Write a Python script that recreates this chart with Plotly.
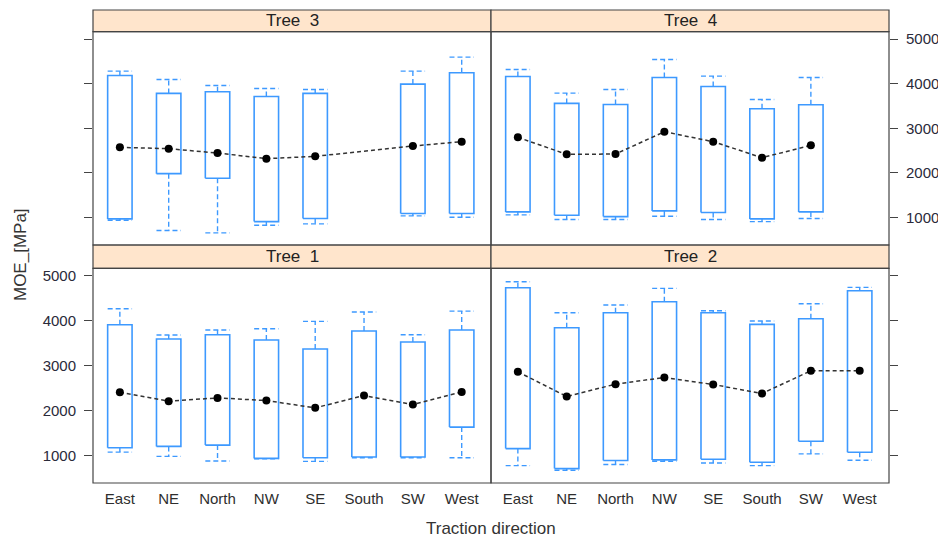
import plotly.graph_objects as go

directions = ["East", "NE", "North", "NW", "SE", "South", "SW", "West"]
y_tick_vals = [1000, 2000, 3000, 4000, 5000]

# Tree 1
tree1_hi = [4267, 3681, 3793, 3822, 3985, 4193, 3689, 4215]
tree1_q3 = [3911, 3593, 3689, 3570, 3370, 3770, 3526, 3793]
tree1_med = [2407, 2207, 2281, 2222, 2059, 2333, 2133, 2415]
tree1_q1 = [1170, 1200, 1230, 933, 948, 963, 963, 1630]
tree1_lo = [1074, 978, 874, 926, 867, 948, 948, 948]

# Tree 2
tree2_hi = [4870, 4178, 4349, 4721, 4223, 3993, 4379, 4743]
tree2_q3 = [4736, 3844, 4178, 4424, 4178, 3918, 4045, 4669]
tree2_med = [2862, 2312, 2587, 2736, 2580, 2379, 2885, 2885]
tree2_q1 = [1152, 706, 885, 900, 914, 848, 1316, 1071]
tree2_lo = [773, 669, 796, 870, 829, 773, 1033, 892]

# Tree 3 (no South data)
tree3_hi = [4284, 4097, 3963, 3896, 3873, None, 4284, 4597]
tree3_q3 = [4187, 3784, 3821, 3716, 3784, None, 3993, 4246]
tree3_med = [2575, 2545, 2448, 2321, 2373, None, 2604, 2701]
tree3_q1 = [970, 1985, 1881, 910, 978, None, 1090, 1090]
tree3_lo = [940, 709, 657, 828, 858, None, 1037, 1007]

# Tree 4 (no West data)
tree4_hi = [4321, 3791, 3873, 4545, 4172, 3649, 4142, None]
tree4_q3 = [4164, 3560, 3537, 4142, 3940, 3440, 3530, None]
tree4_med = [2799, 2418, 2425, 2925, 2701, 2343, 2619, None]
tree4_q1 = [1127, 1052, 1022, 1149, 1112, 970, 1127, None]
tree4_lo = [1060, 955, 955, 1030, 955, 910, 978, None]

BOX_COL = "#3d99ff"
HW = 0.25   # box half width (category units)
CW = 0.25   # cap half width

panels = [
    ("Tree\u00a0\u00a01", "x", "y", tree1_hi, tree1_q3, tree1_med, tree1_q1, tree1_lo),
    ("Tree\u00a0\u00a02", "x2", "y2", tree2_hi, tree2_q3, tree2_med, tree2_q1, tree2_lo),
    ("Tree\u00a0\u00a03", "x3", "y3", tree3_hi, tree3_q3, tree3_med, tree3_q1, tree3_lo),
    ("Tree\u00a0\u00a04", "x4", "y4", tree4_hi, tree4_q3, tree4_med, tree4_q1, tree4_lo),
]

fig = go.Figure()
for name, xa, ya, hi, q3, med, q1, lo in panels:
    bx, by, wx, wy = [], [], [], []
    for i in range(len(directions)):
        if q1[i] is None:
            continue
        x = i
        bx += [x - HW, x + HW, x + HW, x - HW, x - HW, None]
        by += [q1[i], q1[i], q3[i], q3[i], q1[i], None]
        wx += [x, x, None, x, x, None, x - CW, x + CW, None, x - CW, x + CW, None]
        wy += [q3[i], hi[i], None, q1[i], lo[i], None, hi[i], hi[i], None, lo[i], lo[i], None]
    fig.add_trace(go.Scatter(x=wx, y=wy, mode="lines", xaxis=xa, yaxis=ya,
                             line=dict(color=BOX_COL, width=1.4, dash="5px,3px"),
                             hoverinfo="skip", showlegend=False))
    fig.add_trace(go.Scatter(x=bx, y=by, mode="lines", xaxis=xa, yaxis=ya,
                             line=dict(color=BOX_COL, width=1.6),
                             hoverinfo="skip", showlegend=False))
    xs = [i for i in range(len(directions)) if med[i] is not None]
    ys = [med[i] for i in xs]
    fig.add_trace(go.Scatter(x=xs, y=ys, mode="lines+markers", xaxis=xa, yaxis=ya,
                             line=dict(color="#333333", width=1.5, dash="4px,3px"),
                             marker=dict(color="black", size=8),
                             name=name, showlegend=False))

# domains
Y_BOT = [0, 0.4539]
Y_BOT_STRIP = [0.4539, 0.5032]
Y_TOP = [0.5032, 0.9541]
Y_TOP_STRIP = [0.9541, 1.0]
X_L = [0, 0.5]
X_R = [0.5, 1.0]
YR = [385, 5168]
XR = [-0.55, 7.6]
FONT = "Liberation Sans, Arial, sans-serif"

common_x = dict(range=XR, tickvals=list(range(len(directions))), ticktext=directions,
                showgrid=False, zeroline=False, showline=False, ticks="",
                ticklabelstandoff=5, automargin=False,
                tickfont=dict(size=15, color="#2e2e2e", family=FONT))
common_y = dict(range=YR, tickvals=y_tick_vals, showgrid=False, zeroline=False,
                showline=False, ticks="outside", ticklen=8, tickcolor="#444444",
                ticklabelstandoff=5, automargin=False,
                tickfont=dict(size=15, color="#2a2a3a", family=FONT))

fig.update_layout(
    xaxis=dict(domain=X_L, anchor="y", **common_x),
    xaxis2=dict(domain=X_R, anchor="y2", **common_x),
    xaxis3=dict(domain=X_L, anchor="y3", showticklabels=False, **{k: v for k, v in common_x.items() if k != "ticktext"}),
    xaxis4=dict(domain=X_R, anchor="y4", showticklabels=False, **{k: v for k, v in common_x.items() if k != "ticktext"}),
    yaxis=dict(domain=Y_BOT, anchor="x", side="left", **common_y),
    yaxis2=dict(domain=Y_BOT, anchor="x2", side="right", showticklabels=False, **common_y),
    yaxis3=dict(domain=Y_TOP, anchor="x3", side="left", showticklabels=False, **common_y),
    yaxis4=dict(domain=Y_TOP, anchor="x4", side="right", **common_y),
    width=938, height=540,
    margin=dict(l=93, r=49, t=10, b=57, autoexpand=False),
    paper_bgcolor="white", plot_bgcolor="white",
    font=dict(family=FONT, color="#333333"),
)

shapes = []
annotations = []
BORDER = "#444444"
strip_specs = [
    ("Tree\u00a0\u00a01", X_L, Y_BOT, Y_BOT_STRIP),
    ("Tree\u00a0\u00a02", X_R, Y_BOT, Y_BOT_STRIP),
    ("Tree\u00a0\u00a03", X_L, Y_TOP, Y_TOP_STRIP),
    ("Tree\u00a0\u00a04", X_R, Y_TOP, Y_TOP_STRIP),
]
for label, xd, yd, ys in strip_specs:
    shapes.append(dict(type="rect", xref="paper", yref="paper", x0=xd[0], x1=xd[1],
                       y0=ys[0], y1=ys[1], fillcolor="#ffe5cc", line=dict(color=BORDER, width=1.2)))
    shapes.append(dict(type="rect", xref="paper", yref="paper", x0=xd[0], x1=xd[1],
                       y0=yd[0], y1=yd[1], line=dict(color=BORDER, width=1.2)))
    annotations.append(dict(text=label, xref="paper", yref="paper", x=(xd[0] + xd[1]) / 2,
                            y=(ys[0] + ys[1]) / 2, showarrow=False, xanchor="center", yanchor="middle",
                            font=dict(size=17, color="#222222", family=FONT)))

annotations.append(dict(text="Traction direction", xref="paper", yref="paper", x=0.5, y=-0.097,
                        showarrow=False, xanchor="center", yanchor="middle",
                        font=dict(size=17, color="#333333", family=FONT)))
annotations.append(dict(text="MOE_[MPa]", xref="paper", yref="paper", x=-0.0917, y=0.482,
                        textangle=-90, showarrow=False, xanchor="center", yanchor="middle",
                        font=dict(size=17, color="#333333", family=FONT)))
fig.update_layout(shapes=shapes, annotations=annotations)

fig.write_html("out.html", config={"displayModeBar": False},
               post_script="document.body.style.margin='0';document.body.style.overflow='hidden';")
